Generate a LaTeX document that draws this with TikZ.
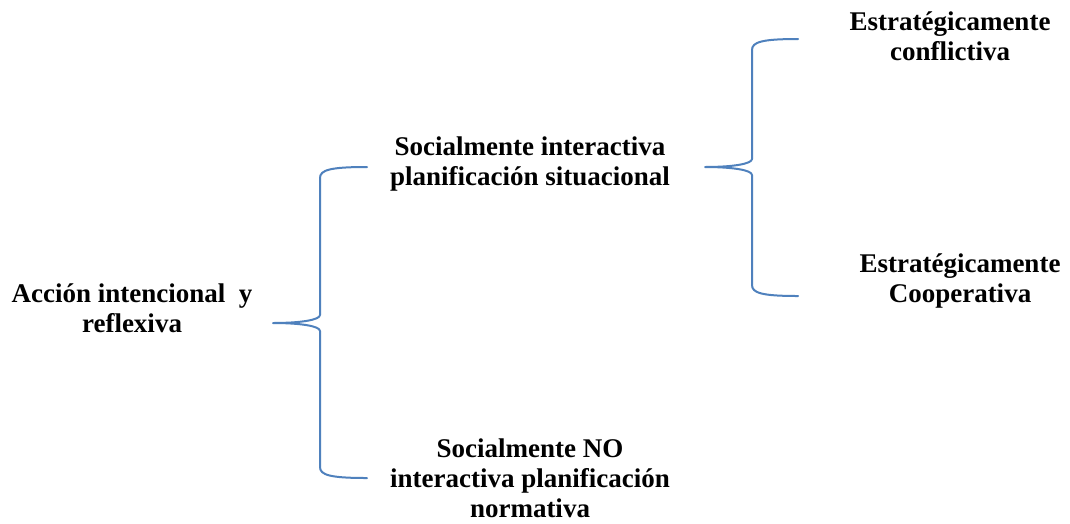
\documentclass[tikz,border=0pt]{standalone}
\usepackage{fontspec}
\setmainfont{Liberation Serif}
\usetikzlibrary{calc}
\definecolor{braceblue}{RGB}{79,129,189}
\tikzset{
	bracestyle/.style={line width=2pt, color=braceblue, line join=round, line cap=round},
	textbox/.style={font=\bfseries\fontsize{27}{30}\selectfont, align=center, inner sep=0pt}
}
\def\curlybrace(#1)(#2)(#3){\draw[bracestyle] let \p1=(#1), \p2=(#2), \p3=(#3) in (\x2,\y2) .. controls (\x1+57pt,\y2) and (\x1+47pt,\y2-3pt) .. (\x1+47pt,\y2-11pt) -- (\x1+47pt,\y1+8pt) .. controls (\x1+47pt,\y1+3pt) and (\x1+27pt,\y1) .. (\x1,\y1) .. controls (\x1+27pt,\y1) and (\x1+47pt,\y1-3pt) .. (\x1+47pt,\y1-8pt) -- (\x1+47pt,\y3+11pt) .. controls (\x1+47pt,\y3+3pt) and (\x1+57pt,\y3) .. (\x3,\y3);}
\begin{document}
\begin{tikzpicture}[x=1pt, y=-1pt]
			%%%%% START %%%%%
			
			\useasboundingbox[fill=white] (0, 0) rectangle (1070, 523);
			
			\node[textbox] (accion) at (132, 308) {Acción intencional\ \ y\\reflexiva};
			\node[textbox] (interactiva) at (530, 164) {Socialmente interactiva\\planificación situacional};
			\node[textbox] (nointeractiva) at (530, 478) {Socialmente NO\\interactiva planificación\\normativa};
			\node[textbox] (conflictiva) at (950, 36) {Estratégicamente\\conflictiva};
			\node[textbox] (cooperativa) at (960, 281) {Estratégicamente\\Cooperativa};
			
			\coordinate (tipA) at (273, 323);
			\coordinate (topA) at (367, 167);
			\coordinate (botA) at (367, 478);
			\curlybrace(tipA)(topA)(botA)
			
			\coordinate (tipB) at (705, 167);
			\coordinate (topB) at (798, 39);
			\coordinate (botB) at (798, 296);
			\curlybrace(tipB)(topB)(botB)
			
			%%%%% END %%%%%
\end{tikzpicture}
\end{document}
